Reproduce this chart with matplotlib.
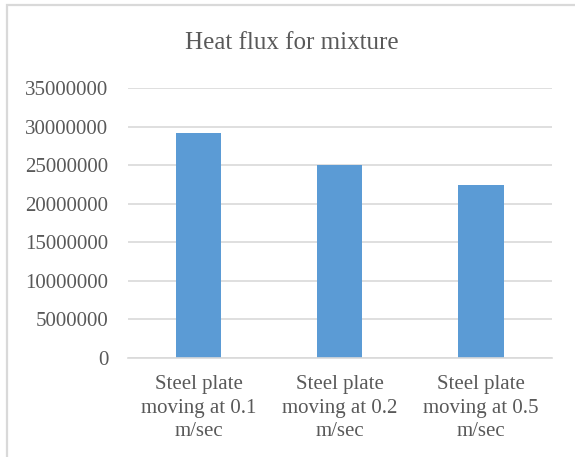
import matplotlib.pyplot as plt
from matplotlib.patches import Rectangle

categories = ['Steel plate\nmoving at 0.1\nm/sec', 'Steel plate\nmoving at 0.2\nm/sec', 'Steel plate\nmoving at 0.5\nm/sec']
heat_flux = [29200000, 25000000, 22400000]
yticks = [0, 5000000, 10000000, 15000000, 20000000, 25000000, 30000000, 35000000]

plt.rcParams['font.family'] = ['Liberation Serif', 'DejaVu Serif']
txt = '#595959'
grid = '#d9d9d9'

fig = plt.figure(figsize=(5.75, 4.57), dpi=100)
ax = fig.add_axes([128 / 575, 1 - 358 / 457, (551.7 - 128) / 575, (358 - 88) / 457])

x = range(len(categories))
ax.bar(x, heat_flux, width=0.32, color='#5b9bd5', zorder=3)
ax.set_xlim(-0.5, 2.5)
ax.set_ylim(0, 35000000)
ax.set_yticks(yticks)
ax.set_yticklabels([str(v) for v in yticks])
ax.set_xticks(list(x))
ax.set_xticklabels(categories, linespacing=1.35)
ax.yaxis.grid(True, color=grid, lw=1.2, zorder=0)
ax.tick_params(axis='y', length=0, pad=14, labelsize=15, labelcolor=txt)
ax.tick_params(axis='x', length=0, pad=12, labelsize=15, labelcolor=txt)
for s in ['top', 'right', 'left']:
    ax.spines[s].set_visible(False)
ax.spines['bottom'].set_color(grid)
ax.spines['bottom'].set_linewidth(1.2)
ax.spines['bottom'].set_zorder(4)

fig.text(292 / 575, 1 - 43 / 457, 'Heat flux for mixture', ha='center', va='center',
         fontsize=18, color=txt)

# chart frame, only the left and top edges are inside the picture
fig.patches.append(Rectangle((6.5 / 575, -0.1), 1.2, 1.1 - 5.5 / 457, transform=fig.transFigure,
                             fill=False, edgecolor=grid, lw=1.6))

fig.savefig('out.png', dpi=100)
